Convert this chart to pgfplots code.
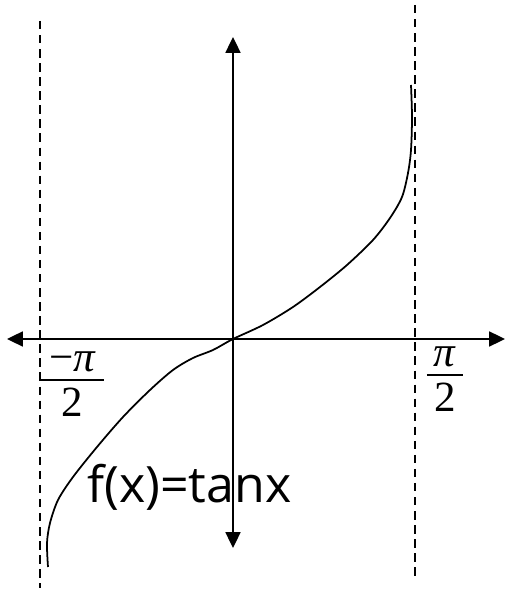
\documentclass[border=0pt]{standalone}
\usepackage{fontspec}
\setmainfont{Liberation Serif}
\newfontfamily\labelfont{Open Sans}
\usepackage{pgfplots}
\pgfplotsset{compat=1.18}
\usetikzlibrary{arrows.meta}

% one data unit = 100 px of the reference, drawn at 2cm
% fraction built by hand: bar width, numerator, denominator
\newcommand{\pifrac}[3]{\vbox{\fontsize{24.5}{30}\selectfont
  \hbox to #1{\hfil#2\hfil}\kern4pt
  \hrule height 1.1pt width #1\kern4.5pt
  \hbox to #1{\hfil#3\hfil}}}

\begin{document}
\begin{tikzpicture}
\begin{axis}[
    hide axis,
    scale only axis,
    x=2cm, y=2cm,
    xmin=-2.33, xmax=2.72,
    ymin=-2.55, ymax=3.39,
    clip=false,
]
% asymptotes
\addplot[black, line width=1.5pt, dash pattern=on 4.8pt off 3.2pt] coordinates {(-1.93,3.18) (-1.93,-2.49)};
\addplot[black, line width=1.5pt, dash pattern=on 4.8pt off 3.2pt] coordinates {(1.82,3.34) (1.82,-2.41)};

% axes with arrows at both ends
\addplot[black, line width=1.1pt, {Triangle[length=9pt,width=8.5pt]}-{Triangle[length=9pt,width=8.5pt]}]
  coordinates {(-2.26,0) (2.72,0)};
\addplot[black, line width=1.1pt, {Triangle[length=9pt,width=8.5pt]}-{Triangle[length=9pt,width=8.5pt]}]
  coordinates {(0,-2.09) (0,3.02)};

% the curve
\addplot[black, line width=1pt, smooth] coordinates {
  (-1.85,-2.28) (-1.86,-2.04) (-1.83,-1.84) (-1.75,-1.61) (-1.60,-1.38)
  (-1.36,-1.08) (-1.10,-0.78) (-0.83,-0.51) (-0.60,-0.31) (-0.40,-0.19)
  (-0.20,-0.11) (0,0) (0.30,0.14) (0.60,0.32) (0.87,0.52) (1.14,0.74)
  (1.40,0.99) (1.57,1.21) (1.69,1.42) (1.75,1.66) (1.78,1.89)
  (1.79,2.22) (1.78,2.54)
};

\node[anchor=base, inner sep=0pt] at (axis cs:-1.61,-0.78) {\pifrac{36.4pt}{\kern1pt−\textit{π}}{2}};
\node[anchor=base, inner sep=0pt] at (axis cs:2.12,-0.73) {\pifrac{20.5pt}{\textit{π}}{2}};
\node[anchor=base west, inner sep=0pt, font=\labelfont\fontsize{28.5}{34}\selectfont]
  at (axis cs:-1.46,-1.64) {f(x)=tanx};

\coordinate (ll) at (axis cs:-2.33,-2.55);
\coordinate (ur) at (axis cs:2.72,3.39);
\end{axis}
\path (ll) rectangle (ur);
\end{tikzpicture}
\end{document}
